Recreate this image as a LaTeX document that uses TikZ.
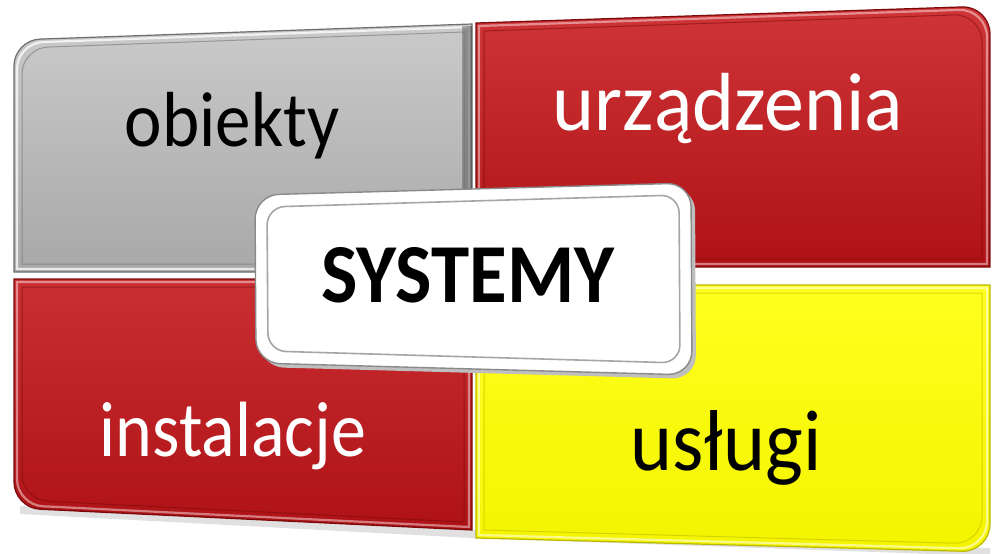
\documentclass[tikz,border=0pt]{standalone}
\usepackage{fontspec}
\setmainfont{Carlito}
\definecolor{grayhi}{HTML}{CACACA}
\definecolor{graylo}{HTML}{A8A8A8}
\definecolor{grayedge}{HTML}{6E6E6E}
\definecolor{redhi}{HTML}{CF3437}
\definecolor{redlo}{HTML}{AE1216}
\definecolor{rededge}{HTML}{7A0A0C}
\definecolor{yelhi}{HTML}{FFFF1E}
\definecolor{yello}{HTML}{F4F400}
\definecolor{yeledge}{HTML}{B8B800}
\definecolor{boxedge}{HTML}{8A8A8A}
\definecolor{boxinner}{HTML}{A6A6A6}

% outlines of the four panels, inset by #1
\newcommand\pathGray[1]{(14+#1,180) [rounded corners=26pt] -- (14+#1,40+#1) -- (243,32+#1) [sharp corners] -- (472-#1,24+#1) -- (472-#1,272-#1) -- (14+#1,272-#1) -- cycle}
\newcommand\pathDev[1]{(733,14.5+#1) [rounded corners=28pt] -- (990-#1,6+#1) -- (990-#1,150) [sharp corners] -- (990-#1,267-#1) -- (476+#1,267-#1) -- (476+#1,23+#1) -- cycle}
\newcommand\pathInst[1]{(14+#1,400) [rounded corners=26pt] -- (14+#1,508-#1) -- (243,519-#1) [sharp corners] -- (472-#1,530-#1) -- (472-#1,279+#1) -- (14+#1,279+#1) -- cycle}
\newcommand\pathServ[1]{(990-#1,420) [rounded corners=28pt] -- (990-#1,552-#1) -- (733,545-#1) [sharp corners] -- (476+#1,538-#1) -- (476+#1,285+#1) -- (990-#1,285+#1) -- cycle}
% vertically stretched label text
\newcommand\tallText[2]{\scalebox{1}[#1]{#2}}

\tikzset{
  rim/.style={draw=#1, line width=1.2pt},
  gloss/.style={draw=white, opacity=0.75, line width=2.2pt},
  groove/.style={draw=#1, opacity=0.55, line width=1pt},
  label/.style={anchor=base, inner sep=0pt},
}

\begin{document}
\begin{tikzpicture}[x=1pt,y=-1pt]
\useasboundingbox (0,0) rectangle (994,554);

% soft shadow under the block
\fill[black!12] (20,514) -- (472,538) -- (990,556) -- (990,548) -- (472,530) -- (20,506) -- cycle;

% gray panel: objects
\shade[top color=grayhi, bottom color=graylo] \pathGray{0};
\path[rim=grayedge] \pathGray{0};
\path[gloss] \pathGray{3};
\path[groove=grayedge] \pathGray{8};
\shade[left color=graylo!60!black, right color=grayedge!40!black, opacity=0.5] (462,26) rectangle (472,272);

% red panel: devices
\shade[top color=redhi, bottom color=redlo] \pathDev{0};
\path[rim=rededge] \pathDev{0};
\path[gloss, opacity=0.45] \pathDev{3};
\path[groove=rededge] \pathDev{8};

% red panel: installations
\shade[top color=redhi!85!redlo, bottom color=redlo] \pathInst{0};
\path[rim=rededge] \pathInst{0};
\path[gloss, opacity=0.45] \pathInst{3};
\path[groove=rededge] \pathInst{8};

% yellow panel: services
\shade[top color=yelhi, bottom color=yello] \pathServ{0};
\path[rim=yeledge] \pathServ{0};
\path[gloss, opacity=0.55] \pathServ{3};
\path[groove=yeledge] \pathServ{8};

% panel labels
\node[label, font=\fontsize{71}{80}\selectfont] (obj) at (232,146) {\tallText{1.1}{obiekty}};
\node[label, text=white, font=\fontsize{80}{90}\selectfont] (dev) at (728,130) {\tallText{1.03}{urządzenia}};
\node[label, text=white, font=\fontsize{70}{80}\selectfont] (inst) at (233,456) {\tallText{1.12}{instalacje}};
\node[label, font=\fontsize{80}{90}\selectfont] (serv) at (726,470) {\tallText{1.08}{usługi}};

% central box
\fill[black!25, rounded corners=24pt] (475,193) -- (695,187) -- (696,379) -- (260,367) -- (259,199) -- cycle;
\path[fill=white, draw=boxedge, line width=1.4pt, rounded corners=24pt]
  (473,189) -- (691,183) -- (692,375) -- (256,363) -- (255,195) -- cycle;
\path[draw=boxinner, line width=1.6pt, rounded corners=18pt]
  (473,201) -- (679,195) -- (680,363) -- (268,351) -- (267,207) -- cycle;
\node[label, font=\bfseries\fontsize{77}{86}\selectfont] (sys) at (468,302) {\tallText{1.09}{SYSTEMY}};
\end{tikzpicture}
\end{document}
